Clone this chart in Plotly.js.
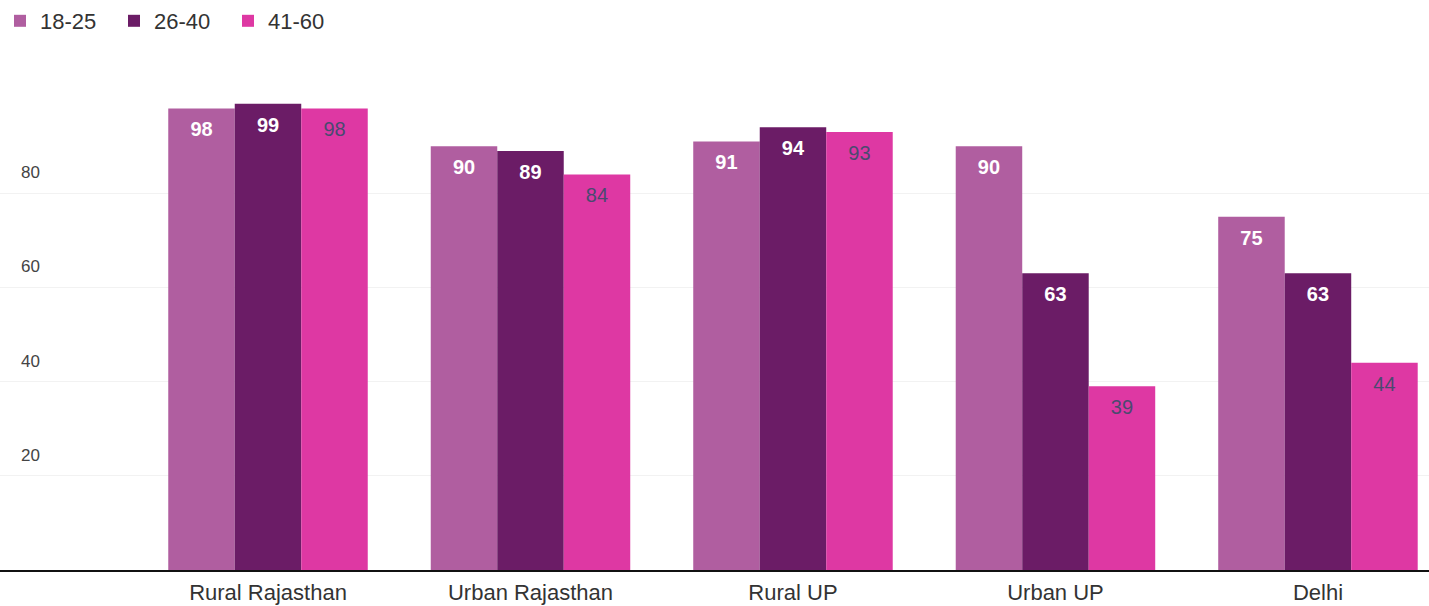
<!DOCTYPE html>
<html>
<head>
<meta charset="utf-8">
<script src="https://cdn.plot.ly/plotly-3.0.1.min.js"></script>
<style>html,body{margin:0;padding:0;background:#fff;}#chart{width:1429px;height:606px;}</style>
</head>
<body>
<div id="chart"></div>
<script>
const categories = ["Rural Rajasthan", "Urban Rajasthan", "Rural UP", "Urban UP", "Delhi"];
const seriesNames = ["18-25", "26-40", "41-60"];
const age18_25 = [98, 90, 91, 90, 75];
const age26_40 = [99, 89, 94, 63, 63];
const age41_60 = [98, 84, 93, 39, 44];
const yTicks = [20, 40, 60, 80];

const colors = ["#b05ea0", "#6b1c66", "#de38a3"];
const textColors = ["#ffffff", "#ffffff", "#4a4a70"];
const values = [age18_25, age26_40, age41_60];
const FONT = "Liberation Sans, Arial, sans-serif";

const barTraces = values.map((v, i) => ({
  type: "bar",
  name: seriesNames[i],
  x: categories,
  y: v,
  offsetgroup: String(i),
  marker: {color: colors[i], line: {width: 0}},
  hoverinfo: "x+y+name"
}));

const labelTraces = values.map((v, i) => ({
  type: "scatter",
  mode: "markers+text",
  name: seriesNames[i] + " labels",
  showlegend: false,
  x: categories,
  y: v,
  offsetgroup: String(i),
  text: v.map(String),
  textposition: "bottom center",
  textfont: {family: FONT, size: 20, color: textColors[i], weight: i < 2 ? "bold" : "normal"},
  marker: {size: 19, opacity: 0},
  cliponaxis: false,
  hoverinfo: "skip"
}));

const layout = {
  width: 1429, height: 606,
  margin: {l: 0, r: 0, t: 60, b: 36},
  paper_bgcolor: "#ffffff",
  plot_bgcolor: "#ffffff",
  barmode: "group",
  scattermode: "group",
  bargap: 0.24,
  bargroupgap: 0,
  font: {family: FONT, color: "#333"},
  showlegend: true,
  legend: {
    orientation: "h", xref: "container", yref: "container",
    x: 0.0, y: 1.0, xanchor: "left", yanchor: "top",
    font: {size: 22, color: "#333"},
    entrywidth: 69, entrywidthmode: "pixels",
    itemwidth: 30, traceorder: "normal"
  },
  xaxis: {
    type: "category",
    range: [-1.021, 4.423],
    showline: true, linecolor: "#111", linewidth: 1.5,
    ticks: "", showgrid: false,
    ticklabelstandoff: 2,
    tickfont: {size: 22, color: "#333"}
  },
  yaxis: {
    range: [0, 108.3],
    tickvals: yTicks,
    ticktext: yTicks.map(String),
    ticklabelposition: "inside",
    ticklabelshift: -21,
    ticklabelstandoff: 18,
    showgrid: true, gridcolor: "#f2f2f2", gridwidth: 1,
    zeroline: false, showline: false,
    tickfont: {size: 17, color: "#444"}
  }
};

Plotly.newPlot("chart", barTraces.concat(labelTraces), layout, {displayModeBar: false, staticPlot: true});
</script>
</body>
</html>
